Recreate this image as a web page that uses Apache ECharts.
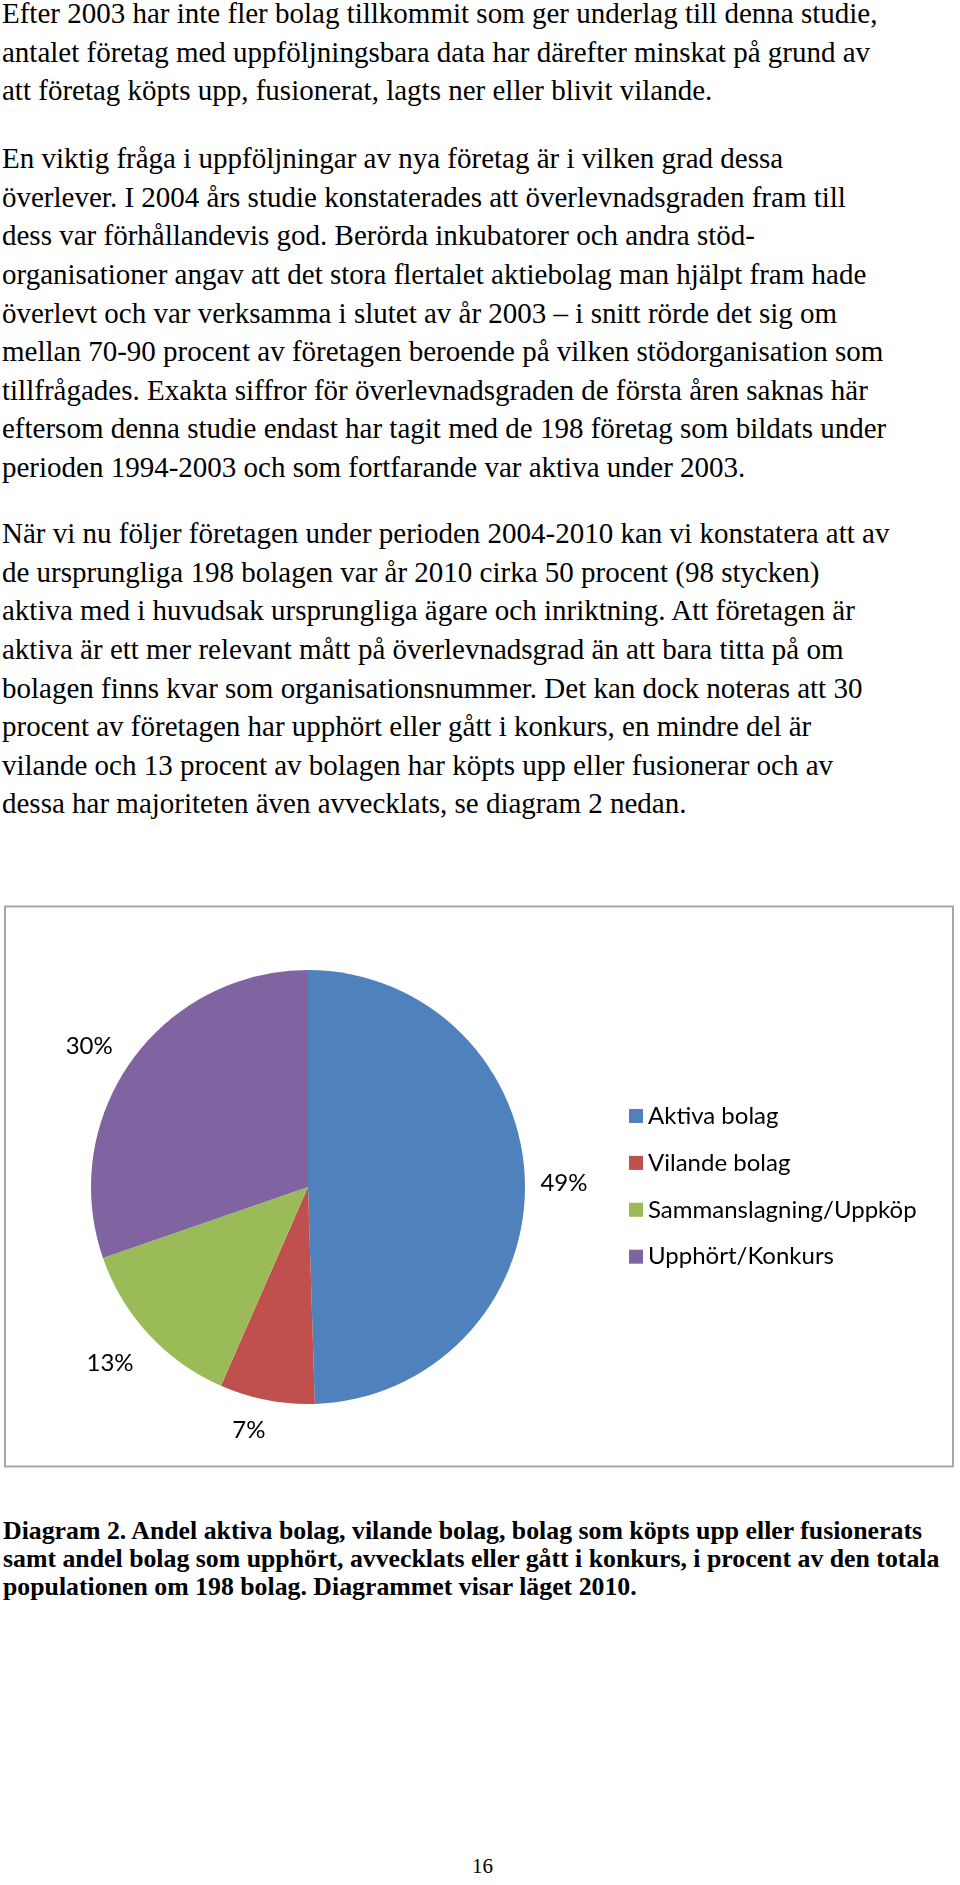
<!DOCTYPE html>
<html>
<head>
<meta charset="utf-8">
<script src="https://cdn.jsdelivr.net/npm/echarts@6/dist/echarts.min.js"></script>
<style>
  html, body { margin: 0; padding: 0; background: #fff; }
  body { width: 960px; height: 1885px; position: relative; overflow: hidden; }
  .para { position: absolute; left: 2px; font-family: "Liberation Serif", "Times New Roman", serif;
          font-size: 29px; line-height: 38.6px; color: #000; white-space: nowrap; }
  .cap { position: absolute; left: 3px; font-family: "Liberation Serif", "Times New Roman", serif;
         font-size: 25.8px; font-weight: bold; line-height: 27.7px; color: #000; white-space: nowrap; }
  .pg { position: absolute; left: 472px; top: 1852px; font-family: "Liberation Serif", serif; font-size: 21px; line-height: 28px; }
  #chart { position: absolute; left: 0; top: 880px; width: 960px; height: 620px; }
</style>
</head>
<body>
<div class="para" style="top:-5.8px">
<div>Efter 2003 har inte fler bolag tillkommit som ger underlag till denna studie,</div>
<div>antalet företag med uppföljningsbara data har därefter minskat på grund av</div>
<div>att företag köpts upp, fusionerat, lagts ner eller blivit vilande.</div>
</div>
<div class="para" style="top:139.2px">
<div>En viktig fråga i uppföljningar av nya företag är i vilken grad dessa</div>
<div>överlever. I 2004 års studie konstaterades att överlevnadsgraden fram till</div>
<div>dess var förhållandevis god. Berörda inkubatorer och andra stöd-</div>
<div>organisationer angav att det stora flertalet aktiebolag man hjälpt fram hade</div>
<div>överlevt och var verksamma i slutet av år 2003 – i snitt rörde det sig om</div>
<div>mellan 70-90 procent av företagen beroende på vilken stödorganisation som</div>
<div>tillfrågades. Exakta siffror för överlevnadsgraden de första åren saknas här</div>
<div>eftersom denna studie endast har tagit med de 198 företag som bildats under</div>
<div>perioden 1994-2003 och som fortfarande var aktiva under 2003.</div>
</div>
<div class="para" style="top:514.2px">
<div>När vi nu följer företagen under perioden 2004-2010 kan vi konstatera att av</div>
<div>de ursprungliga 198 bolagen var år 2010 cirka 50 procent (98 stycken)</div>
<div>aktiva med i huvudsak ursprungliga ägare och inriktning. Att företagen är</div>
<div>aktiva är ett mer relevant mått på överlevnadsgrad än att bara titta på om</div>
<div>bolagen finns kvar som organisationsnummer. Det kan dock noteras att 30</div>
<div>procent av företagen har upphört eller gått i konkurs, en mindre del är</div>
<div>vilande och 13 procent av bolagen har köpts upp eller fusionerar och av</div>
<div>dessa har majoriteten även avvecklats, se diagram 2 nedan.</div>
</div>
<div id="chart"></div>
<div class="cap" style="top:1517.4px">
<div>Diagram 2. Andel aktiva bolag, vilande bolag, bolag som köpts upp eller fusionerats</div>
<div>samt andel bolag som upphört, avvecklats eller gått i konkurs, i procent av den totala</div>
<div>populationen om 198 bolag. Diagrammet visar läget 2010.</div>
</div>
<div class="pg">16</div>
<script>
const categories = ['Aktiva bolag', 'Vilande bolag', 'Sammanslagning/Uppköp', 'Upphört/Konkurs'];
const values = [49, 7, 13, 30];
const colors = ['#4F81BD', '#C0504D', '#9BBB59', '#8064A2'];

const pieData = categories.map((n, i) => ({ name: n, value: values[i], itemStyle: { color: colors[i] } }));
// small per-label nudges to match label placement of the original
const labelPads = [[0, 8, 0, 0], [0, 20, 0, 0], [0, 14, 0, 0], [0, 14, 0, 0]];
const labelFmt = ['{c}%', '{c}%\n', '{c}%', '\n{c}%'];
const labelLH = [24, 24, 24, 20];
const ringData = categories.map((n, i) => ({ name: n, value: values[i],
  label: { padding: labelPads[i], formatter: labelFmt[i], lineHeight: labelLH[i] } }));

const chart = echarts.init(document.getElementById('chart'), null, { renderer: 'canvas' });
chart.setOption({
  animation: false,
  backgroundColor: 'transparent',
  graphic: [{
    type: 'rect', silent: true, z: -1,
    shape: { x: 5, y: 26.5, width: 948, height: 560 },
    style: { fill: '#fff', stroke: '#a8a8a8', lineWidth: 2 }
  }],
  legend: {
    orient: 'vertical', left: 624, top: 219,
    icon: 'rect', itemWidth: 14, itemHeight: 14, itemGap: 22.9,
    data: categories,
    textStyle: { fontFamily: 'Lato', fontSize: 24, lineHeight: 24, color: '#000' },
    selectedMode: false
  },
  series: [{
    type: 'pie', center: [308, 307], radius: [0, 217],
    startAngle: 90, clockwise: true,
    label: { show: false }, labelLine: { show: false },
    itemStyle: { borderWidth: 0 },
    silent: true,
    data: pieData
  }, {
    type: 'pie', center: [308, 307], radius: [198, 316],
    startAngle: 90, clockwise: true, silent: true,
    itemStyle: { color: 'rgba(0,0,0,0)', borderWidth: 0 },
    label: { show: true, position: 'inside', formatter: '{c}%',
             fontFamily: 'Lato', fontSize: 24, color: '#000' },
    labelLine: { show: false },
    data: ringData
  }]
});
</script>
</body>
</html>
